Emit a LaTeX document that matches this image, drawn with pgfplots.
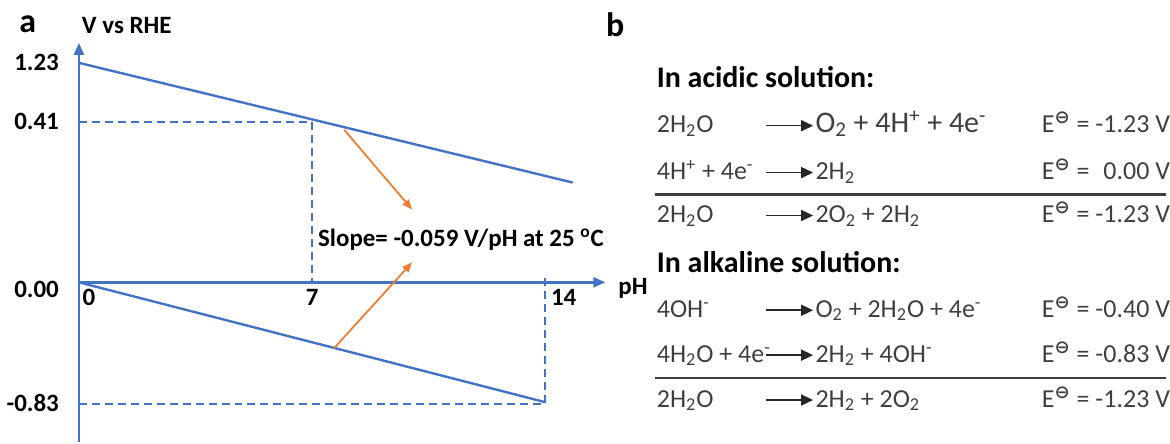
\documentclass[border=0pt]{standalone}
\usepackage{fontspec}
\setmainfont{Carlito}
\newfontfamily\symfont{DejaVu Sans}
\usepackage{pgfplots}
\pgfplotsset{compat=1.18}
\usetikzlibrary{arrows.meta}

\definecolor{axblue}{HTML}{4472C4}
\definecolor{slopeor}{HTML}{ED7D31}
\definecolor{eqgray}{HTML}{3F3F3F}

\newcommand{\Eo}{E\textsuperscript{\symfont\bfseries\symbol{"2296}}}
\newcommand{\sub}[1]{\textsubscript{#1}}
\newcommand{\sups}[1]{\textsuperscript{#1}}

% one reaction row: baseline y (px), left side, right side, potential
\newcommand{\eqrow}[5][\fontsize{13}{15}\selectfont]{%
  \node[anchor=base west] at (657,#2) {#3};
  \draw[black!85, line width=0.8pt, -{Triangle[length=6pt,width=5.5pt]}] (767,#2+7) -- (814,#2+7);
  \node[anchor=base west, font=#1] at (816,#2) {#4};
  \node[anchor=base west] at (1043,#2) {\Eo{} = #5};
}

\begin{document}
\begin{tikzpicture}
\path (0pt,0pt) rectangle (585pt,221.5pt);

\begin{axis}[
    at={(39pt,0pt)}, anchor=south west,
    x=16.7pt, y=50pt,
    xmin=0, xmax=15.8, ymin=-1.6, ymax=2.4,
    axis lines=middle,
    axis line style={draw=axblue, line width=1.2pt},
    x axis line style={-{Triangle[length=6pt,width=5pt]}},
    y axis line style={-{Triangle[length=6pt,width=5pt]}},
    major tick length=0pt,
    hide obscured x ticks=false, hide obscured y ticks=false,
    xtick={0.3,7,14.55}, xticklabels={0,7,14},
    ytick={2.20,1.61,-0.07,-1.21}, yticklabels={1.23,0.41,0.00,-0.83},
    tick label style={font=\fontsize{12.5}{14}\selectfont\bfseries, text=black},
    yticklabel style={anchor=east, xshift=-6.5pt},
    xticklabel style={anchor=north},
    xlabel={pH}, ylabel={V vs RHE},
    label style={font=\fontsize{12.5}{14}\selectfont\bfseries},
    xlabel style={at={(rel axis cs:1,0.4)}, anchor=west, xshift=3pt, yshift=-3pt},
    ylabel style={at={(rel axis cs:0,1)}, anchor=south west, rotate=0, xshift=-2pt, yshift=1pt},
    clip=false,
]
% Nernst lines (schematic, not to scale)
\addplot[axblue, line width=1.2pt] coordinates {(0,2.20) (14.82,1.00)};
\addplot[axblue, line width=1.2pt] coordinates {(0,0) (13.98,-1.20)};
% guide lines at pH 7 and pH 14
\addplot[axblue, line width=1pt, dash pattern=on 4pt off 2.5pt] coordinates {(0,1.61) (7,1.61) (7,0)};
\addplot[axblue, line width=1pt, dash pattern=on 4pt off 2.5pt] coordinates {(0,-1.22) (13.98,-1.22) (13.98,0.04)};
% slope pointers
\addplot[slopeor, line width=0.9pt, -{Triangle[length=5pt,width=4pt]}] coordinates {(7.96,1.53) (10.0,0.73)};
\addplot[slopeor, line width=0.9pt, -{Triangle[length=5pt,width=4pt]}] coordinates {(7.66,-0.66) (10.0,0.20)};

\node[font=\fontsize{12.5}{14}\selectfont\bfseries] at (axis cs:11.47,0.43)
  {Slope= -0.059 V/pH at 25 \textsuperscript{o}C};
\end{axis}

\begin{scope}[x=0.5pt, y=0.5pt]
\node[anchor=base west, inner sep=0, font=\fontsize{17}{19}\selectfont\bfseries] at (18,410) {a};
\node[anchor=base west, inner sep=0, font=\fontsize{17}{19}\selectfont\bfseries] at (606,406) {b};

\begin{scope}[every node/.style={inner sep=0, text=eqgray, font=\fontsize{13}{15}\selectfont}]
\node[anchor=base west, text=black, font=\fontsize{15}{17}\selectfont\bfseries] at (657,355) {In acidic solution:};
\eqrow[\fontsize{15}{17}\selectfont]{310}{2H\sub{2}O}{O\sub{2} + 4H\sups{+} + 4e\sups{-}}{-1.23 V}
\eqrow{263}{4H\sups{+} + 4e\sups{-}}{2H\sub{2}}{\phantom{-}0.00 V}
\draw[eqgray, line width=1.2pt] (655,248) -- (1168,248);
\eqrow{220}{2H\sub{2}O}{2O\sub{2} + 2H\sub{2}}{-1.23 V}

\node[anchor=base west, text=black, font=\fontsize{15}{17}\selectfont\bfseries] at (657,170) {In alkaline solution:};
\eqrow{125}{4OH\sups{-}}{O\sub{2} + 2H\sub{2}O + 4e\sups{-}}{-0.40 V}
\eqrow{80}{4H\sub{2}O + 4e\sups{-}}{2H\sub{2} + 4OH\sups{-}}{-0.83 V}
\draw[eqgray, line width=1.2pt] (655,64) -- (1168,64);
\eqrow{35}{2H\sub{2}O}{2H\sub{2} + 2O\sub{2}}{-1.23 V}
\end{scope}
\end{scope}
\end{tikzpicture}
\end{document}
